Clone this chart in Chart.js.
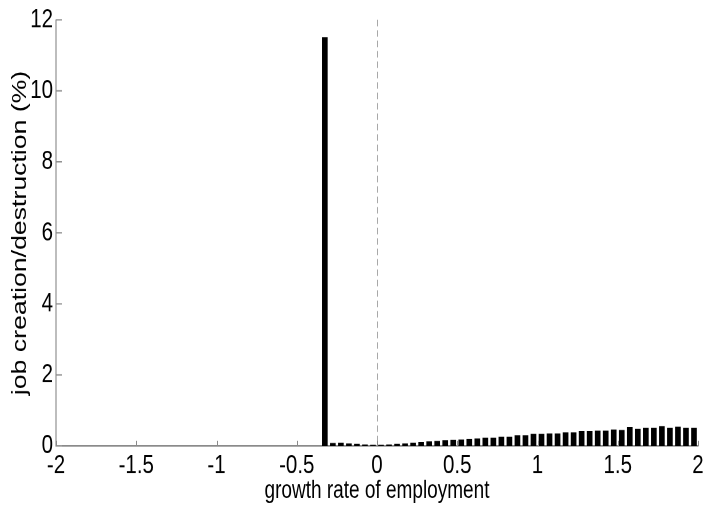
<!DOCTYPE html>
<html>
<head>
<meta charset="utf-8">
<script src="https://cdn.jsdelivr.net/npm/chart.js@4/dist/chart.umd.min.js"></script>
<style>
  html, body { margin: 0; padding: 0; background: #fff; overflow: hidden; }
  #wrap { position: absolute; left: 0; top: 0; width: 707px; height: 389.23px;
          transform: scaleY(1.3); transform-origin: 0 0; }
</style>
</head>
<body>
<div id="wrap"><canvas id="c"></canvas></div>
<script>
// growth-rate bin centres
const binCenters = [
  -0.325, -0.275, -0.225, -0.175, -0.125, -0.075, -0.025,
  0.025, 0.075, 0.125, 0.175, 0.225, 0.275, 0.325, 0.375, 0.425, 0.475,
  0.525, 0.575, 0.625, 0.675, 0.725, 0.775, 0.825, 0.875, 0.925, 0.975,
  1.025, 1.075, 1.125, 1.175, 1.225, 1.275, 1.325, 1.375, 1.425, 1.475,
  1.525, 1.575, 1.625, 1.675, 1.725, 1.775, 1.825, 1.875, 1.925, 1.975
];
// job creation/destruction (%)
const jobShares = [
  11.5, 0.07, 0.08, 0.06, 0.05, 0.03, 0.02,
  0.02, 0.03, 0.05, 0.06, 0.08, 0.10, 0.12, 0.13, 0.15, 0.16,
  0.17, 0.19, 0.20, 0.22, 0.22, 0.25, 0.25, 0.29, 0.29, 0.33,
  0.33, 0.34, 0.34, 0.37, 0.37, 0.41, 0.41, 0.42, 0.42, 0.45,
  0.44, 0.52, 0.47, 0.50, 0.50, 0.55, 0.50, 0.53, 0.50, 0.50
];
const xTickLabels = ['-2', '-1.5', '-1', '-0.5', '0', '0.5', '1', '1.5', '2'];
const yTickLabels = ['0', '2', '4', '6', '8', '10', '12'];
const xTitle = 'growth rate of employment';
const yTitle = 'job creation/destruction (%)';

const FONT = "'Liberation Sans', Arial, sans-serif";
const S = 1.3;
const H = 506 / S;
const plotTop = 18 / S, plotBottom = 446 / S;

const points = binCenters.map((x, i) => ({ x: x, y: jobShares[i] }));

const decor = {
  id: 'decor',
  beforeDatasetsDraw(chart) {
    const { ctx, chartArea, scales } = chart;
    const x0 = scales.x.getPixelForValue(0);
    ctx.save();
    ctx.strokeStyle = '#a8a8a8';
    ctx.lineWidth = 1;
    ctx.setLineDash([5, 3]);
    ctx.beginPath();
    ctx.moveTo(Math.round(x0) + 0.5, chartArea.top);
    ctx.lineTo(Math.round(x0) + 0.5, chartArea.bottom);
    ctx.stroke();
    ctx.restore();
  },
  afterDatasetsDraw(chart) {
    const { ctx, chartArea, scales } = chart;
    ctx.save();
    ctx.strokeStyle = '#8a8a8a';
    ctx.lineWidth = 1;
    ctx.beginPath();
    scales.x.ticks.forEach(t => {
      const px = Math.round(scales.x.getPixelForValue(t.value)) + 0.5;
      ctx.moveTo(px, chartArea.bottom);
      ctx.lineTo(px, chartArea.bottom - 4);
    });
    scales.y.ticks.forEach(t => {
      const py = scales.y.getPixelForValue(t.value);
      ctx.moveTo(chartArea.left, py);
      ctx.lineTo(chartArea.left + 6, py);
    });
    ctx.stroke();
    ctx.restore();
  }
};

new Chart(document.getElementById('c'), {
  type: 'bar',
  data: {
    datasets: [{
      data: points,
      backgroundColor: '#000',
      borderWidth: 0,
      barThickness: 5
    }]
  },
  options: {
    responsive: true,
    maintainAspectRatio: false,
    animation: false,
    devicePixelRatio: 2,
    layout: { padding: { top: plotTop, right: 9, left: 0, bottom: 0 } },
    plugins: { legend: { display: false }, tooltip: { enabled: false } },
    scales: {
      x: {
        type: 'linear',
        min: -2, max: 2,
        offset: false,
        grid: { display: false, drawTicks: false },
        border: { display: true, color: '#7a7a7a', width: 1 },
        ticks: {
          stepSize: 0.5,
          padding: 3,
          maxRotation: 0,
          autoSkip: false,
          color: '#000',
          font: { family: FONT, size: 20.5 },
          callback: (v) => {
            const i = Math.round((v + 2) / 0.5);
            return xTickLabels[i];
          }
        },
        title: {
          display: true,
          text: xTitle,
          color: '#000',
          font: { family: FONT, size: 19 },
          padding: { top: 0, bottom: 0 }
        },
        afterFit(scale) { scale.height = H - plotBottom; }
      },
      y: {
        min: 0, max: 12,
        grid: { display: false, drawTicks: false },
        border: { display: true, color: '#7a7a7a', width: 1 },
        ticks: {
          stepSize: 2,
          padding: 3,
          color: '#000',
          font: { family: FONT, size: 20.5 },
          callback: (v) => yTickLabels[Math.round(v / 2)]
        },
        title: {
          display: true,
          text: yTitle,
          color: '#000',
          font: { family: FONT, size: 20.5 },
          padding: { top: 8, bottom: 0 }
        },
        afterFit(scale) { scale.width = 56; }
      }
    }
  },
  plugins: [decor]
});
</script>
</body>
</html>
